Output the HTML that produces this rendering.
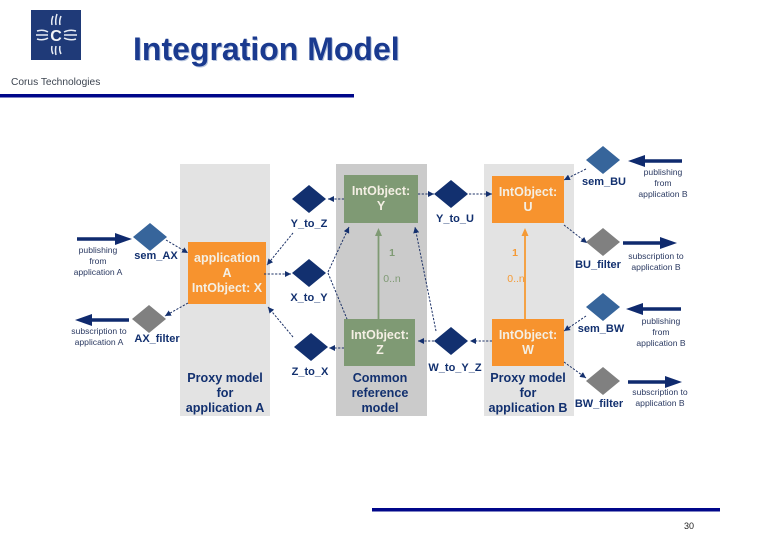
<!DOCTYPE html>
<html><head><meta charset="utf-8"><style>
html,body{margin:0;padding:0;background:#fff;width:780px;height:540px;overflow:hidden}
svg{display:block;filter:blur(.3px)}
text{font-family:"Liberation Sans",sans-serif}
.b{font-weight:bold;font-size:11px;fill:#12306f;text-anchor:middle}
.p{font-weight:bold;font-size:12.6px;fill:#12306f;text-anchor:middle}
.s{font-size:8.6px;fill:#2b3a62;text-anchor:middle}
.w{font-weight:bold;font-size:12.5px;fill:#f4efe4;text-anchor:middle}
.d{stroke:#1c3166;stroke-width:1;stroke-dasharray:2.2 1.5;fill:none;marker-end:url(#a)}
.f{stroke:#0f2a6e;stroke-width:3.6;fill:none}
</style></head><body>
<svg width="780" height="540" viewBox="0 0 780 540" xmlns="http://www.w3.org/2000/svg">
<defs><marker id="a" markerWidth="7" markerHeight="6" refX="6" refY="3" orient="auto" markerUnits="userSpaceOnUse"><path d="M0 0L6 3L0 6z" fill="#14306e"/></marker></defs>
<rect x="31" y="10" width="50" height="50" fill="#1f3a78"/>
<g stroke="#e8edf5" stroke-width="1.5" fill="none">
<path d="M52 25q-1-4 1-9M56 25q-1-5 1-11M60 25q-1-4 1-9M52 46q-1 4 1 8M56 46q-1 5 0 9M60 46q-1 4 1 8"/>
<path d="M37 31q6-2 11 1M36 35h12M37 39q6 2 11-1M64 32q6-3 12-1M64 35h13M64 38q6 3 12 1"/>
</g>
<text x="56" y="41" font-size="16" font-weight="bold" fill="#f2f4f8" text-anchor="middle">C</text>
<text x="11" y="85" font-size="10.2" fill="#3c4450">Corus Technologies</text>
<text x="133" y="60" font-size="32" font-weight="bold" fill="#1a3a8f" style="filter:drop-shadow(1px 1px 0 #b9c6de)">Integration Model</text>
<rect x="0" y="94" width="354" height="3.5" fill="#00078a"/>
<rect x="372" y="508" width="348" height="3.5" fill="#00078a"/>
<text x="684" y="529" font-size="9" fill="#222">30</text>

<rect x="180" y="164" width="90" height="252" fill="#e3e3e3"/>
<rect x="336" y="164" width="91" height="252" fill="#cbcbcb"/>
<rect x="484" y="164" width="90" height="252" fill="#e3e3e3"/>

<path d="M378.500 319V231" stroke="#7f9a74" stroke-width="1.8"/>
<path d="M378.500 228l-3.500 8h7z" fill="#7f9a74"/>
<path d="M525 319V231" stroke="#f59a35" stroke-width="1.8"/>
<path d="M525 228l-3.500 8h7z" fill="#f59a35"/>

<rect x="188" y="242" width="78" height="62" fill="#f7932e"/>
<rect x="344" y="175" width="74" height="48" fill="#7f9a74"/>
<rect x="344" y="319" width="71" height="47" fill="#7f9a74"/>
<rect x="492" y="176" width="72" height="47" fill="#f7932e"/>
<rect x="492" y="319" width="72" height="47" fill="#f7932e"/>

<g fill="#12306f">
<path d="M292 199l17-14 17 14-17 14z"/>
<path d="M292 273l17-14 17 14-17 14z"/>
<path d="M294 347l17-14 17 14-17 14z"/>
<path d="M434 194l17-14 17 14-17 14z"/>
<path d="M434 341l17-14 17 14-17 14z"/>
</g>
<g fill="#37659b">
<path d="M133 237l17-14 17 14-17 14z"/>
<path d="M586 160l17-14 17 14-17 14z"/>
<path d="M586 307l17-14 17 14-17 14z"/>
</g>
<g fill="#808080">
<path d="M132 319l17-14 17 14-17 14z"/>
<path d="M586 242l17-14 17 14-17 14z"/>
<path d="M586 381l17-14 17 14-17 14z"/>
</g>

<path class="f" d="M77 239H118"/><path d="M115 233L132 239L115 245z" fill="#0f2a6e"/>
<path class="f" d="M129 320H88"/><path d="M92 314L75 320L92 326z" fill="#0f2a6e"/>
<path class="f" d="M682 161H642"/><path d="M645 155L628 161L645 167z" fill="#0f2a6e"/>
<path class="f" d="M623 243H664"/><path d="M660 237L677 243L660 249z" fill="#0f2a6e"/>
<path class="f" d="M681 309H640"/><path d="M643 303L626 309L643 315z" fill="#0f2a6e"/>
<path class="f" d="M628 382H668"/><path d="M665 376L682 382L665 388z" fill="#0f2a6e"/>

<path class="d" d="M166 240L188 253"/>
<path class="d" d="M188 303L165 316"/>
<path class="d" d="M293 233L267 265"/>
<path class="d" d="M264 274H291"/>
<path class="d" d="M293 337L268 307"/>
<path class="d" d="M344 199H328"/>
<path class="d" d="M344 348H329"/>
<path class="d" d="M328 272L349 227"/>
<path class="d" d="M328 273L347 319" style="marker-end:none"/>
<path class="d" d="M418 194H434"/>
<path class="d" d="M469 194H492"/>
<path class="d" d="M492 341H470"/>
<path class="d" d="M434 341H418"/>
<path class="d" d="M436 331L415 227"/>
<path class="d" d="M586 169L564 180"/>
<path class="d" d="M564 225L587 243"/>
<path class="d" d="M586 316L564 331"/>
<path class="d" d="M564 362L586 378"/>

<text class="w" x="227" y="262">application</text>
<text class="w" x="227" y="277">A</text>
<text class="w" x="227" y="292">IntObject: X</text>
<text class="w" x="381" y="195">IntObject:</text>
<text class="w" x="381" y="210">Y</text>
<text class="w" x="380" y="339">IntObject:</text>
<text class="w" x="380" y="354">Z</text>
<text class="w" x="528" y="196">IntObject:</text>
<text class="w" x="528" y="211">U</text>
<text class="w" x="528" y="339">IntObject:</text>
<text class="w" x="528" y="354">W</text>

<text x="392" y="256" font-size="10.500" font-weight="bold" fill="#7f9a74" text-anchor="middle">1</text>
<text x="392" y="282" font-size="10.500" fill="#7f9a74" text-anchor="middle">0..n</text>
<text x="515" y="256" font-size="10.500" font-weight="bold" fill="#f59a35" text-anchor="middle">1</text>
<text x="516" y="282" font-size="10.500" fill="#f59a35" text-anchor="middle">0..n</text>

<text class="b" x="309" y="227">Y_to_Z</text>
<text class="b" x="309" y="301">X_to_Y</text>
<text class="b" x="310" y="375">Z_to_X</text>
<text class="b" x="455" y="222">Y_to_U</text>
<text class="b" x="455" y="371">W_to_Y_Z</text>
<text class="b" x="156" y="259">sem_AX</text>
<text class="b" x="157" y="342">AX_filter</text>
<text class="b" x="604" y="185">sem_BU</text>
<text class="b" x="598" y="268">BU_filter</text>
<text class="b" x="601" y="332">sem_BW</text>
<text class="b" x="599" y="407">BW_filter</text>

<text class="p" x="225" y="382">Proxy model</text>
<text class="p" x="225" y="397">for</text>
<text class="p" x="225" y="412">application A</text>
<text class="p" x="380" y="382">Common</text>
<text class="p" x="380" y="397">reference</text>
<text class="p" x="380" y="412">model</text>
<text class="p" x="528" y="382">Proxy model</text>
<text class="p" x="528" y="397">for</text>
<text class="p" x="528" y="412">application B</text>

<text class="s" x="98" y="253">publishing</text>
<text class="s" x="98" y="264">from</text>
<text class="s" x="98" y="275">application A</text>
<text class="s" x="99" y="334">subscription to</text>
<text class="s" x="99" y="345">application A</text>
<text class="s" x="663" y="175">publishing</text>
<text class="s" x="663" y="186">from</text>
<text class="s" x="663" y="197">application B</text>
<text class="s" x="656" y="259">subscription to</text>
<text class="s" x="656" y="270">application B</text>
<text class="s" x="661" y="324">publishing</text>
<text class="s" x="661" y="335">from</text>
<text class="s" x="661" y="346">application B</text>
<text class="s" x="660" y="395">subscription to</text>
<text class="s" x="660" y="406">application B</text>
</svg>
</body></html>
